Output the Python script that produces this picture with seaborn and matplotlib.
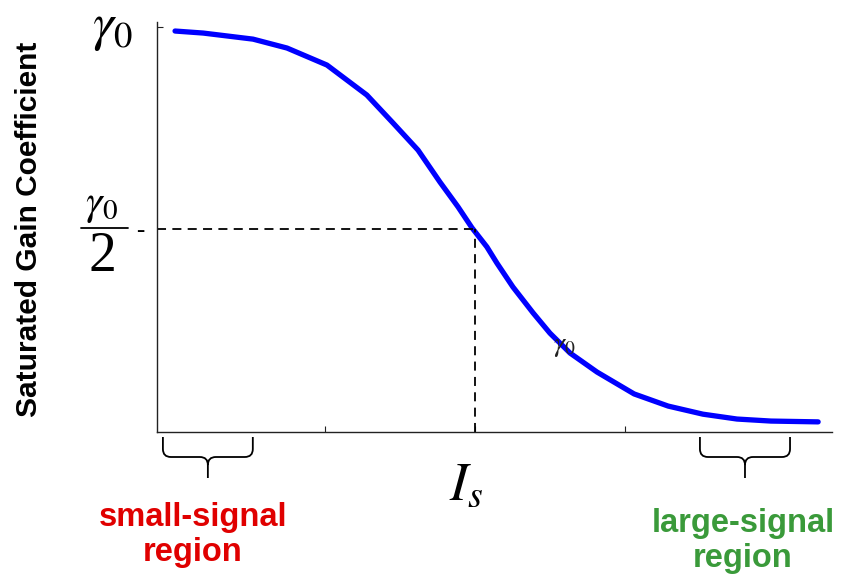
import numpy as np
import pandas as pd
import matplotlib
matplotlib.use("Agg")
import matplotlib.pyplot as plt
import seaborn as sns
from matplotlib.lines import Line2D
from matplotlib.path import Path
from matplotlib.patches import PathPatch

# ---- data (I/Is on log axis, gain normalised to gamma0) ----
intensity_ratio = [0.01, 0.0154, 0.0331, 0.0558, 0.103, 0.19, 0.284, 0.417, 0.584,
                   0.77, 0.955, 1.2, 1.4, 1.79, 2.44, 3.16, 4.3, 6.51, 11.5, 19.4,
                   33.1, 55.8, 94.0, 194.0]
gain = [0.990, 0.985, 0.970, 0.948, 0.906, 0.832, 0.763, 0.696, 0.617, 0.556,
        0.504, 0.457, 0.417, 0.358, 0.294, 0.244, 0.195, 0.148, 0.094, 0.064,
        0.044, 0.032, 0.027, 0.025]
x_ticks = [0.1, 1, 10]
sat_point = 1.0
half_gain = 0.5
small_region = [0.0083, 0.033]
large_region = [31.6, 126.0]

df = pd.DataFrame({"I": intensity_ratio, "g": gain})

sns.set_style("white")
plt.rcParams["mathtext.fontset"] = "stix"
plt.rcParams["font.family"] = ["Liberation Sans", "DejaVu Sans"]

W, H = 844, 579
fig = plt.figure(figsize=(W / 100, H / 100), dpi=100)
ax = fig.add_axes([157 / W, 1 - 432 / H, (832 - 157) / W, (432 - 22) / H])

sns.lineplot(data=df, x="I", y="g", ax=ax, color="#0000ff", linewidth=3.8,
             solid_capstyle="round", solid_joinstyle="round")
ax.set_xscale("log")
ax.set_xlim(0.00758, 240)
ax.set_ylim(0, 1.0123)

# dashed guides at saturation intensity
ax.plot([0.00758, sat_point], [half_gain, half_gain], color="black", lw=1.3,
        dashes=(5, 3.5))
ax.plot([sat_point, sat_point], [0, half_gain], color="black", lw=1.3,
        dashes=(5, 3.5))

for s in ["top", "right"]:
    ax.spines[s].set_visible(False)
for s in ["left", "bottom"]:
    ax.spines[s].set_color("#222222")
    ax.spines[s].set_linewidth(1.0)

ax.set_xticks(x_ticks)
ax.set_xticklabels([])
ax.xaxis.set_minor_locator(matplotlib.ticker.NullLocator())
ax.set_yticks([1.0])
ax.set_yticklabels([])
ax.tick_params(axis="both", which="major", direction="in", length=4, width=0.8,
               color="#222222", bottom=True, left=True)
ax.set_xlabel("")
ax.set_ylabel("")


def fx(x):
    return x / W


def fy(y):
    return 1 - y / H


# y-axis title
fig.text(fx(29), fy(229), "Saturated Gain Coefficient", rotation=90,
         ha="center", va="center", fontsize=21.5, fontweight="bold",
         color="black")

# gamma0 label at top
fig.text(fx(113), fy(28), r"$\gamma_0$", ha="center", va="center",
         fontsize=38, color="black")
# gamma0 / 2 fraction
fig.text(fx(101), fy(205), r"$\gamma_0$", ha="center", va="center",
         fontsize=30, color="black")
fig.add_artist(Line2D([fx(81), fx(128)], [fy(228), fy(228)],
                      transform=fig.transFigure, color="black", lw=1.3))
fig.text(fx(102), fy(257), "2", ha="center", va="center", fontsize=40,
         family="Liberation Serif", color="black")
fig.text(fx(140), fy(231), "-", ha="center", va="center", fontsize=18,
         family="Liberation Serif", color="black")

# gamma0 near curve
fig.text(fx(564), fy(346), r"$\gamma_0$", ha="center", va="center",
         fontsize=20, color="#222222")

# I_s label
fig.text(fx(466), fy(486), r"$I_s$", ha="center", va="center",
         fontsize=39, color="black")

# region labels
fig.text(fx(193), fy(535), "small-signal\nregion", ha="center", va="center",
         fontsize=23.5, fontweight="bold", color="#e00000", linespacing=1.15)
fig.text(fx(743), fy(541), "large-signal\nregion", ha="center", va="center",
         fontsize=23.5, fontweight="bold", color="#3a9a3a", linespacing=1.15)


# braces (drawn in display pixels, horizontal extent from data coords)
def brace(x0d, x1d):
    x0 = ax.transData.transform((x0d, 0.5))[0]
    x1 = ax.transData.transform((x1d, 0.5))[0]
    xc = (x0 + x1) / 2
    top, mid, tip = H - 437, H - 457, H - 478
    r = 8
    verts = [(x0, top), (x0, mid + r), (x0, mid), (x0 + r, mid),
             (xc - r, mid), (xc, mid), (xc, mid - r), (xc, tip),
             (xc, mid - r), (xc, mid), (xc + r, mid),
             (x1 - r, mid), (x1, mid), (x1, mid + r), (x1, top)]
    codes = [Path.MOVETO, Path.LINETO, Path.CURVE3, Path.CURVE3,
             Path.LINETO, Path.CURVE3, Path.CURVE3, Path.LINETO,
             Path.MOVETO, Path.CURVE3, Path.CURVE3,
             Path.LINETO, Path.CURVE3, Path.CURVE3, Path.LINETO]
    p = PathPatch(Path(verts, codes), facecolor="none", edgecolor="black",
                  lw=1.3, transform=None, clip_on=False)
    fig.add_artist(p)


fig.canvas.draw()
brace(*small_region)
brace(*large_region)

fig.savefig("out.png", dpi=100)
